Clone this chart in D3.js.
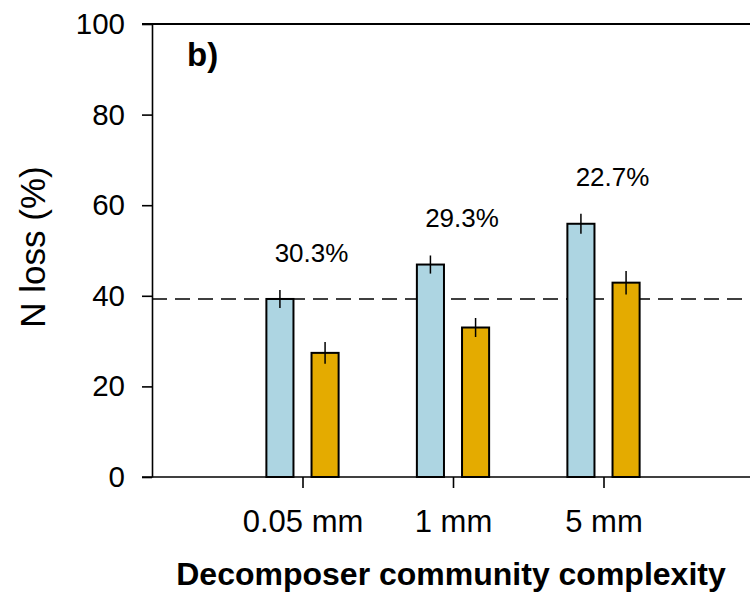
<!DOCTYPE html>
<html><head><meta charset="utf-8">
<script src="https://cdn.jsdelivr.net/npm/d3@7"></script>
<style>body{margin:0;background:#fff}svg{display:block;font-family:Arial,"Liberation Sans",sans-serif}</style>
</head><body>
<svg id="c" width="750" height="594"></svg>
<script>
const categories = ["0.05 mm", "1 mm", "5 mm"];
const blueValues = [39.3, 46.9, 55.9];
const blueErrors = [2.0, 2.0, 2.2];
const orangeValues = [27.4, 33.0, 42.9];
const orangeErrors = [2.4, 2.1, 2.6];
const reductionLabels = ["30.3%", "29.3%", "22.7%"];
const referenceLine = 39.3;
const yTicks = [0, 20, 40, 60, 80, 100];

const svg = d3.select("#c");
const x = d3.scaleLinear().domain([0, 4]).range([152, 754]);
const y = d3.scaleLinear().domain([0, 100]).range([477, 24]);
const unit = x(1) - x(0);
const bw = unit * 0.18;
const off = unit * 0.15;

// top frame line
svg.append("line").attr("x1", 142).attr("x2", 750).attr("y1", y(100)).attr("y2", y(100))
  .attr("stroke", "#000").attr("stroke-width", 2);

// y axis
const ya = svg.append("g").attr("transform", `translate(${x(0)},0)`)
  .call(d3.axisLeft(y).tickValues(yTicks).tickSize(10).tickPadding(17).tickSizeOuter(0));
ya.select(".domain").attr("stroke", "#000").attr("stroke-width", 1.6);
ya.selectAll(".tick line").attr("stroke", "#000").attr("stroke-width", 1.6);
ya.selectAll(".tick text").attr("font-size", 29.5).attr("fill", "#000")
  .attr("font-family", "Arial, 'Liberation Sans', sans-serif");

// x axis
const xa = svg.append("g").attr("transform", `translate(0,${y(0)})`)
  .call(d3.axisBottom(x).tickValues([1, 2, 3]).tickFormat((d, i) => categories[i])
    .tickSize(11).tickPadding(22).tickSizeOuter(0));
xa.select(".domain").attr("d", `M142,0H750`).attr("stroke", "#000").attr("stroke-width", 1.6);
xa.selectAll(".tick line").attr("stroke", "#000").attr("stroke-width", 1.6);
xa.selectAll(".tick text").attr("font-size", 31).attr("fill", "#000")
  .attr("font-family", "Arial, 'Liberation Sans', sans-serif");

// reference dashed line
svg.append("line").attr("x1", x(0)).attr("x2", 750)
  .attr("y1", y(referenceLine)).attr("y2", y(referenceLine))
  .attr("stroke", "#000").attr("stroke-width", 1.6).attr("stroke-dasharray", "15,8");

const idx = d3.range(categories.length);
// blue bars
svg.selectAll(".bb").data(idx).join("rect")
  .attr("x", i => x(i + 1) - off - bw / 2).attr("width", bw)
  .attr("y", i => y(blueValues[i])).attr("height", i => y(0) - y(blueValues[i]))
  .attr("fill", "#ADD5E2").attr("stroke", "#000").attr("stroke-width", 2);
// orange bars
svg.selectAll(".ob").data(idx).join("rect")
  .attr("x", i => x(i + 1) + off - bw / 2).attr("width", bw)
  .attr("y", i => y(orangeValues[i])).attr("height", i => y(0) - y(orangeValues[i]))
  .attr("fill", "#E4AB00").attr("stroke", "#000").attr("stroke-width", 2);

// error bars
svg.selectAll(".be").data(idx).join("line")
  .attr("x1", i => x(i + 1) - off).attr("x2", i => x(i + 1) - off)
  .attr("y1", i => y(blueValues[i] + blueErrors[i])).attr("y2", i => y(blueValues[i] - blueErrors[i]))
  .attr("stroke", "#000").attr("stroke-width", 1.5);
svg.selectAll(".oe").data(idx).join("line")
  .attr("x1", i => x(i + 1) + off).attr("x2", i => x(i + 1) + off)
  .attr("y1", i => y(orangeValues[i] + orangeErrors[i])).attr("y2", i => y(orangeValues[i] - orangeErrors[i]))
  .attr("stroke", "#000").attr("stroke-width", 1.5);

// reduction labels
svg.selectAll(".rl").data(idx).join("text")
  .attr("x", i => x(i + 1) + 9).attr("y", i => y(blueValues[i] + blueErrors[i]) - 28)
  .attr("text-anchor", "middle").attr("font-size", 26).attr("fill", "#000")
  .text(i => reductionLabels[i]);

// panel label
svg.append("text").attr("x", 187).attr("y", 66).attr("font-size", 33).attr("font-weight", "bold")
  .text("b)");

// axis titles
svg.append("text").attr("transform", "translate(45,247) rotate(-90)").attr("text-anchor", "middle")
  .attr("font-size", 35).text("N loss (%)");
svg.append("text").attr("x", 451).attr("y", 585).attr("text-anchor", "middle")
  .attr("font-size", 32).attr("font-weight", "bold").text("Decomposer community complexity");
</script>
</body></html>
